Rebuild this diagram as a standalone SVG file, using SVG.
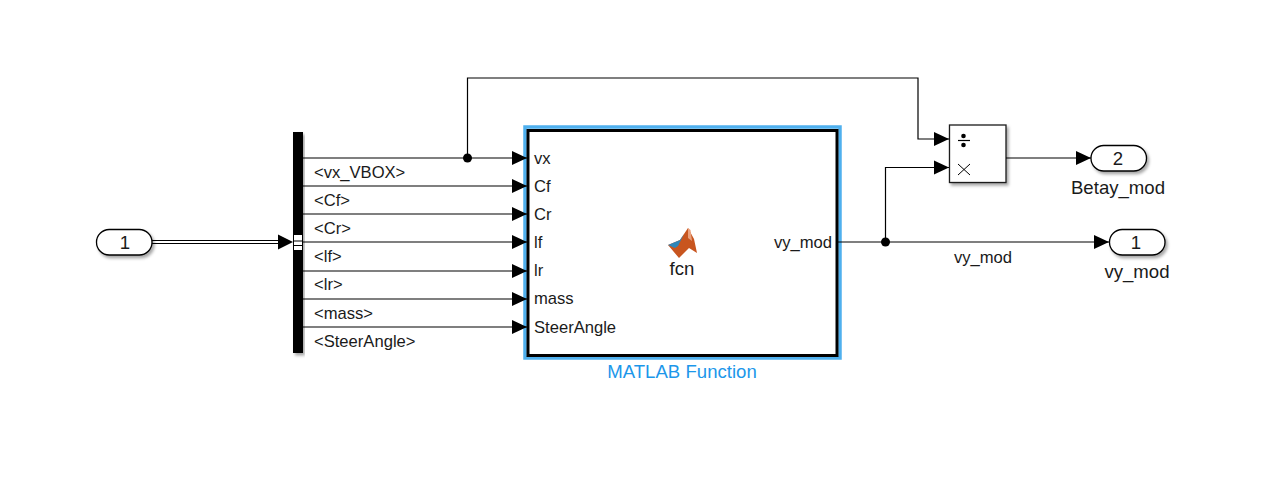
<svg xmlns="http://www.w3.org/2000/svg" width="1263" height="478" viewBox="0 0 1263 478">
<style>
text{font-family:"Liberation Sans",Arial,sans-serif;font-size:16.6px;fill:#1a1a1a}
.m{text-anchor:middle}
.big{font-size:18.6px}
.c{fill:none;stroke:#000;stroke-width:1.2}
.port{fill:#fff;stroke:#000;stroke-width:1.3;filter:url(#sh)}
</style>
<defs>
<filter id="sh" x="-20%" y="-20%" width="140%" height="150%"><feDropShadow dx="2" dy="2.5" stdDeviation="1.5" flood-color="#000" flood-opacity="0.35"/></filter>
<marker id="a" markerUnits="userSpaceOnUse" markerWidth="15" markerHeight="15" refX="15" refY="7.5" orient="auto"><path d="M0 0.5L15 7.5L0 14.500Z" fill="#000"/></marker>
</defs>
<rect width="1263" height="478" fill="#fff"/>
<g id="inport1">
<rect class="port" x="96.500" y="229.500" width="55.500" height="25.500" rx="12.750"/>
<text class="m big" x="125" y="249">1</text>
</g>
<g id="bus-selector">
<rect x="293" y="132" width="10" height="221" fill="#000" filter="url(#sh)"/>
<rect x="294" y="235" width="8" height="5.500" fill="#fff"/>
<rect x="294" y="241.500" width="8" height="3.500" fill="#fff"/>
<rect x="294" y="246" width="8" height="4" fill="#fff"/>
</g>
<g id="matlab-function">
<rect x="525" y="127" width="315" height="231" fill="none" stroke="#4fb0ee" stroke-width="3.500"/>
<rect x="528" y="130.500" width="309" height="225" fill="#fff" stroke="#000" stroke-width="3"/>
<text x="534" y="164">vx</text>
<text x="534" y="192">Cf</text>
<text x="534" y="220">Cr</text>
<text x="534" y="248">lf</text>
<text x="534" y="276">lr</text>
<text x="534" y="304">mass</text>
<text x="534" y="333">SteerAngle</text>
<text x="832" y="248" text-anchor="end">vy_mod</text>
<path d="M668 245L680 240L688 228L694 239L697 253L689 248L679 258Z" fill="#c8551f"/>
<path d="M668 245L680 240L688 228L684 234L678 246L675 248Z" fill="#2f86b8"/>
<path d="M688 228L690.500 230L692 241L688 238Z" fill="#e9a07c"/>
<text class="m big" x="682" y="275">fcn</text>
<text class="m big" x="682" y="377.500" style="fill:#1c97ea">MATLAB Function</text>
</g>
<g id="product">
<rect x="949.500" y="125" width="56.500" height="57.500" fill="#fff" stroke="#1a1a1a" stroke-width="1.300" filter="url(#sh)"/>
<path d="M958 140.500H970" stroke="#000" stroke-width="1.200"/>
<circle cx="963.500" cy="136" r="2.300" fill="#000"/>
<circle cx="963.500" cy="145" r="2.300" fill="#000"/>
<path d="M958 164L970 175M970 164L958 175" stroke="#000" stroke-width="1"/>
</g>
<g id="outport2">
<rect class="port" x="1091" y="145.500" width="55.500" height="25.500" rx="12.750"/>
<text class="m big" x="1118" y="165">2</text>
<text class="m big" x="1118" y="194">Betay_mod</text>
</g>
<g id="outport1">
<rect class="port" x="1109.500" y="229.500" width="55.500" height="25.500" rx="12.750"/>
<text class="m big" x="1136" y="249">1</text>
<text class="m big" x="1137" y="278">vy_mod</text>
</g>
<g id="connectors">
<path class="c" d="M152 240.500H280M152 243.500H280"/>
<path d="M278 234.500L293 242L278 249.500Z" fill="#000"/>
<path class="c" d="M303 158H527" marker-end="url(#a)"/>
<path class="c" d="M303 186H527" marker-end="url(#a)"/>
<path class="c" d="M303 214H527" marker-end="url(#a)"/>
<path class="c" d="M303 242H527" marker-end="url(#a)"/>
<path class="c" d="M303 271H527" marker-end="url(#a)"/>
<path class="c" d="M303 299H527" marker-end="url(#a)"/>
<path class="c" d="M303 327H527" marker-end="url(#a)"/>
<path class="c" d="M467.500 158V78H918V139H949" marker-end="url(#a)"/>
<circle cx="467.500" cy="158" r="4.500" fill="#000"/>
<path class="c" d="M838 242H1109" marker-end="url(#a)"/>
<path class="c" d="M885.500 242V167.500H949" marker-end="url(#a)"/>
<circle cx="885.500" cy="242" r="4.500" fill="#000"/>
<path class="c" d="M1006 158H1091" marker-end="url(#a)"/>
<text x="314" y="177.500">&lt;vx_VBOX&gt;</text>
<text x="314" y="205.500">&lt;Cf&gt;</text>
<text x="314" y="233.500">&lt;Cr&gt;</text>
<text x="314" y="261.500">&lt;lf&gt;</text>
<text x="314" y="289.500">&lt;lr&gt;</text>
<text x="314" y="318.500">&lt;mass&gt;</text>
<text x="314" y="346.500">&lt;SteerAngle&gt;</text>
<text class="m" x="983" y="262.500">vy_mod</text>
</g>
</svg>
